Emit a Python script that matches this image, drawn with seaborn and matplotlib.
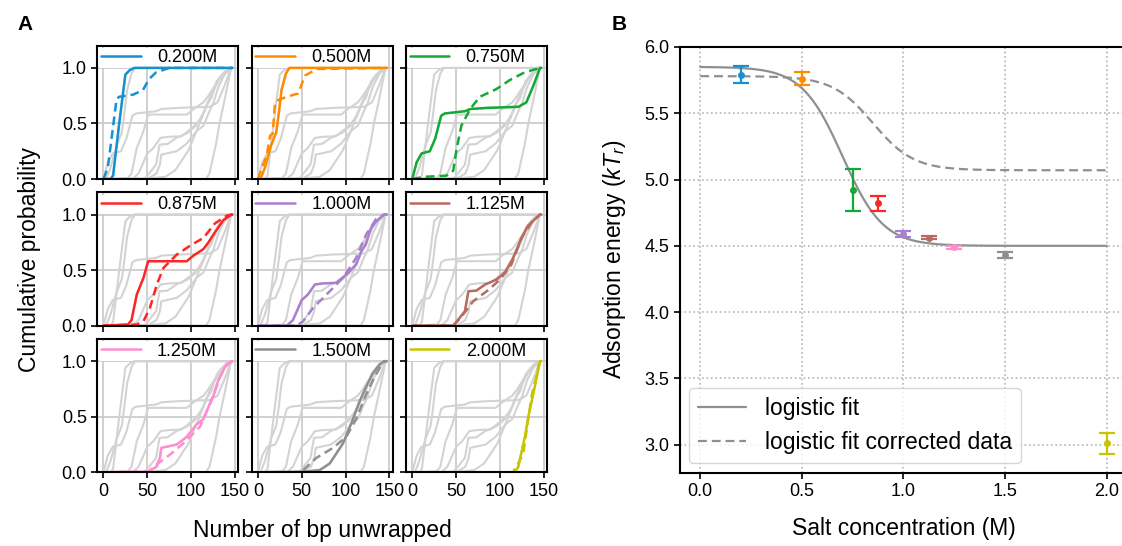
import numpy as np
import pandas as pd
import seaborn as sns
import matplotlib.pyplot as plt

# salt concentrations and colours
labels = ['0.200M', '0.500M', '0.750M', '0.875M', '1.000M', '1.125M', '1.250M', '1.500M', '2.000M']
salt = [0.2, 0.5, 0.75, 0.875, 1.0, 1.125, 1.25, 1.5, 2.0]
colors = ['#1491ce', '#ff8c00', '#12aa36', '#ff2525', '#a980d0', '#b86b5e', '#ff8ed1', '#8f8f8f', '#c9c400']

# cumulative probability curves, solid (raw) and dashed (corrected)
solid_curves = {
    '0.200M': ([0, 8, 11, 18, 25, 30, 35, 147], [0, 0, 0.03, 0.5, 0.94, 0.98, 1.0, 1.0]),
    '0.500M': ([0, 3, 8, 15, 21, 24, 27, 32, 36, 147], [0, 0, 0.1, 0.3, 0.42, 0.6, 0.8, 0.95, 1.0, 1.0]),
    '0.750M': ([0, 5, 10.6, 20, 26, 33, 37, 60, 66, 85, 121, 130, 138, 145.5, 147],
               [0, 0.15, 0.23, 0.25, 0.36, 0.57, 0.59, 0.61, 0.63, 0.64, 0.65, 0.69, 0.84, 1.0, 1.0]),
    '0.875M': ([0, 28, 32, 38, 45.6, 51, 95, 102.5, 114, 119.7, 127, 136.7, 146, 147],
               [0, 0.01, 0.05, 0.28, 0.43, 0.58, 0.58, 0.63, 0.69, 0.75, 0.84, 0.95, 1.0, 1.0]),
    '1.000M': ([0, 33, 40, 50, 57, 65, 74, 89, 101, 112, 118, 123, 129, 135, 144, 147],
               [0, 0, 0.05, 0.23, 0.28, 0.37, 0.38, 0.385, 0.46, 0.55, 0.67, 0.73, 0.88, 0.94, 1.0, 1.0]),
    '1.125M': ([0, 46.7, 52, 60, 64, 73, 83, 96, 105.6, 115, 124.6, 132, 145.5, 147],
               [0, 0, 0.05, 0.13, 0.31, 0.315, 0.37, 0.415, 0.48, 0.61, 0.79, 0.9, 1.0, 1.0]),
    '1.250M': ([0, 51, 60.5, 64.3, 66, 72, 83.6, 95, 106, 114, 119.7, 125, 131, 138.6, 146, 147],
               [0, 0.005, 0.05, 0.13, 0.22, 0.23, 0.25, 0.32, 0.43, 0.48, 0.59, 0.68, 0.83, 0.95, 1.0, 1.0]),
    '1.500M': ([0, 51.7, 70.6, 82, 97, 108, 116, 123.4, 131, 138.5, 144, 147],
               [0, 0.005, 0.02, 0.08, 0.26, 0.47, 0.64, 0.77, 0.89, 0.97, 1.0, 1.0]),
    '2.000M': ([0, 117, 120.8, 128.4, 132, 138, 145.5, 147], [0, 0, 0.05, 0.32, 0.49, 0.71, 1.0, 1.0]),
}
dashed_curves = {
    '0.200M': ([0, 5, 15, 18, 34, 45, 52, 60, 75, 147], [0, 0.1, 0.72, 0.74, 0.76, 0.80, 0.90, 0.96, 1.0, 1.0]),
    '0.500M': ([0, 10, 14, 17, 19.6, 23, 33, 46, 53.6, 67, 147],
               [0, 0.21, 0.39, 0.41, 0.69, 0.71, 0.74, 0.77, 0.93, 0.99, 1.0]),
    '0.750M': ([0, 14.4, 39, 46.7, 50.5, 56, 66, 77, 96, 111, 128, 145.5, 147],
               [0, 0.02, 0.03, 0.075, 0.27, 0.48, 0.63, 0.74, 0.81, 0.89, 0.96, 1.0, 1.0]),
    '0.875M': ([0, 38, 45.6, 53, 60.8, 68.4, 83.6, 98.8, 114, 127, 140.5, 146, 147],
               [0, 0.01, 0.04, 0.16, 0.37, 0.52, 0.64, 0.72, 0.79, 0.92, 0.99, 1.0, 1.0]),
    '1.000M': ([0, 44, 51.7, 63, 82, 97, 112, 123.4, 134.7, 144, 147],
               [0, 0, 0.04, 0.16, 0.31, 0.43, 0.61, 0.82, 0.96, 1.0, 1.0]),
    '1.125M': ([0, 46.7, 56, 69.5, 86.6, 100, 113, 124.6, 136, 145.5, 147],
               [0, 0, 0.08, 0.22, 0.32, 0.415, 0.55, 0.79, 0.93, 1.0, 1.0]),
    '1.250M': ([0, 51, 60.5, 76, 91, 110, 121.6, 133, 140.6, 146, 147],
               [0, 0.005, 0.07, 0.16, 0.26, 0.41, 0.62, 0.86, 0.97, 1.0, 1.0]),
    '1.500M': ([51.7, 66.8, 85.7, 100.8, 112, 123.4, 133, 142, 144, 147],
               [0.02, 0.13, 0.22, 0.32, 0.48, 0.70, 0.86, 0.98, 1.0, 1.0]),
    '2.000M': ([0, 115, 117, 120.8, 126.5, 132, 136, 145.5, 147],
               [0, 0, 0.04, 0.08, 0.17, 0.47, 0.69, 1.0, 1.0]),
}

# adsorption energies with error bars
energy = [5.79, 5.76, 4.92, 4.82, 4.59, 4.56, 4.49, 4.43, 3.01]
energy_err = [0.065, 0.05, 0.16, 0.055, 0.02, 0.012, 0.012, 0.022, 0.08]

# logistic fit parameters (upper, lower, midpoint, steepness)
fit_raw = (5.85, 4.50, 0.70, 10.0)
fit_corr = (5.78, 5.07, 0.85, 10.0)


def long_df(curves):
    rows = []
    for lab, (xs, ys) in curves.items():
        for x, y in zip(xs, ys):
            rows.append((lab, x, y))
    return pd.DataFrame(rows, columns=['conc', 'bp', 'prob'])


df_solid = long_df(solid_curves)
df_dashed = long_df(dashed_curves)

sns.set_style('ticks')
plt.rcParams['font.family'] = ['Liberation Sans', 'DejaVu Sans']
plt.rcParams['mathtext.fontset'] = 'custom'
plt.rcParams['mathtext.it'] = 'Liberation Sans:italic'
plt.rcParams['mathtext.rm'] = 'Liberation Sans'
for key in ['text.color', 'axes.labelcolor', 'xtick.color', 'ytick.color', 'axes.edgecolor']:
    plt.rcParams[key] = 'black'

fig = plt.figure(figsize=(11.22, 5.46), dpi=100)
gs = fig.add_gridspec(3, 3, left=0.0867, right=0.4875, bottom=0.135, top=0.9163,
                      wspace=0.096, hspace=0.10)

for i, lab in enumerate(labels):
    ax = fig.add_subplot(gs[i // 3, i % 3])
    ax.set_axisbelow(True)
    ax.grid(True, color='#c8c8c8', lw=1.2)
    sns.lineplot(data=df_solid, x='bp', y='prob', units='conc', estimator=None, sort=False,
                 color='#d3d3d3', lw=1.5, legend=False, ax=ax)
    sub_s = df_solid[df_solid['conc'] == lab]
    sub_d = df_dashed[df_dashed['conc'] == lab]
    sns.lineplot(data=sub_s, x='bp', y='prob', sort=False, estimator=None, color=colors[i],
                 lw=1.8, label=lab, ax=ax)
    sns.lineplot(data=sub_d, x='bp', y='prob', sort=False, estimator=None, color=colors[i],
                 lw=1.8, ls=(0, (3.5, 2)), label='_nolegend_', ax=ax)
    ax.set_xlim(-7, 153.5)
    ax.set_ylim(0, 1.2)
    ax.set_xticks([0, 50, 100, 150])
    ax.set_yticks([0, 0.5, 1.0])
    ax.set_xlabel('')
    ax.set_ylabel('')
    ax.tick_params(labelsize=13, width=1.2, length=4, color='black', labelcolor='black')
    if i % 3 != 0:
        ax.set_yticklabels([])
    if i // 3 != 2:
        ax.set_xticklabels([])
    for sp in ax.spines.values():
        sp.set_linewidth(1.5)
        sp.set_color('black')
    leg = ax.legend(loc='upper left', fontsize=13, handlelength=2.2, borderaxespad=0.12,
                    borderpad=0.08, handletextpad=0.9, frameon=True, fancybox=False)
    leg.get_frame().set_edgecolor('none')
    leg.get_frame().set_alpha(1)
    leg.set_zorder(1.5)

fig.text(0.026, 0.525, 'Cumulative probability', rotation=90, ha='center', va='center', fontsize=16.5)
fig.text(0.287, 0.028, 'Number of bp unwrapped', ha='center', va='center', fontsize=16.5)
fig.text(0.016, 0.956, 'A', fontsize=15, fontweight='bold', ha='left', va='center')
fig.text(0.545, 0.956, 'B', fontsize=15, fontweight='bold', ha='left', va='center')

# panel B
axb = fig.add_axes([0.606, 0.1345, 0.3985, 0.7795])
axb.set_axisbelow(True)
axb.grid(True, color='#b4b4b4', ls=':', lw=1.2)
xs = np.linspace(0, 2, 400)
up, lo, x0, k = fit_raw
df_fit = pd.DataFrame({'salt': xs, 'E': up - (up - lo) / (1 + np.exp(-k * (xs - x0)))})
up, lo, x0, k = fit_corr
df_fit_c = pd.DataFrame({'salt': xs, 'E': up - (up - lo) / (1 + np.exp(-k * (xs - x0)))})
sns.lineplot(data=df_fit, x='salt', y='E', color='#8f8f8f', lw=1.6, label='logistic fit', ax=axb)
sns.lineplot(data=df_fit_c, x='salt', y='E', color='#8f8f8f', lw=1.6, ls=(0, (4, 2.2)),
             label='logistic fit corrected data', ax=axb)
for s, e, err, c in zip(salt, energy, energy_err, colors):
    axb.errorbar(s, e, yerr=err, fmt='o', color=c, ms=4, capsize=6, elinewidth=1.6, capthick=1.6)
axb.set_xlim(-0.1, 2.1)
axb.set_ylim(2.79, 6.0)
axb.set_xticks([0, 0.5, 1.0, 1.5, 2.0])
axb.set_yticks([3.0, 3.5, 4.0, 4.5, 5.0, 5.5, 6.0])
axb.tick_params(labelsize=13, width=1.2, length=4, color='black', labelcolor='black')
axb.set_xlabel('Salt concentration (M)', fontsize=16.5, labelpad=12)
axb.set_ylabel('Adsorption energy ($kT_r$)', fontsize=16.5, labelpad=12)
for sp in axb.spines.values():
    sp.set_linewidth(1.5)
    sp.set_color('black')
lg = axb.legend(loc='lower left', fontsize=16.5, handlelength=2.1, borderaxespad=0.4)
lg.get_frame().set_edgecolor('#cccccc')
for t in lg.get_texts():
    t.set_color('black')

fig.savefig('out.png', dpi=100)
